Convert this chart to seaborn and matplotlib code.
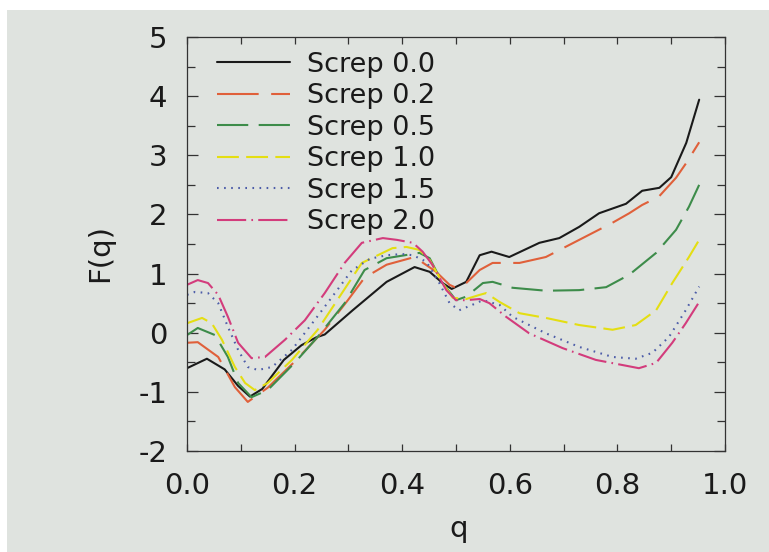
import matplotlib
matplotlib.use("Agg")
import matplotlib.pyplot as plt
import seaborn as sns
import pandas as pd
from matplotlib.ticker import MultipleLocator
from matplotlib.patches import Rectangle

# ---- data ----
labels = ["Screp 0.0", "Screp 0.2", "Screp 0.5", "Screp 1.0", "Screp 1.5", "Screp 2.0"]

q_00 = [0.0, 0.037, 0.07, 0.095, 0.117, 0.14, 0.18, 0.213, 0.24, 0.256, 0.308, 0.371, 0.423, 0.451,
        0.475, 0.492, 0.519, 0.544, 0.566, 0.599, 0.655, 0.692, 0.729, 0.766, 0.816, 0.846, 0.878,
        0.9, 0.928, 0.952]
F_00 = [-0.60, -0.44, -0.62, -0.90, -1.08, -0.95, -0.46, -0.21, -0.08, -0.03, 0.38, 0.86, 1.11, 1.03,
        0.84, 0.74, 0.86, 1.31, 1.37, 1.28, 1.52, 1.60, 1.79, 2.02, 2.18, 2.40, 2.45, 2.63, 3.21, 3.94]

q_02 = [0.0, 0.02, 0.058, 0.089, 0.113, 0.15, 0.2, 0.256, 0.299, 0.330, 0.371, 0.423, 0.463, 0.488,
        0.5, 0.519, 0.544, 0.568, 0.618, 0.667, 0.729, 0.791, 0.822, 0.846, 0.877, 0.909, 0.928, 0.952]
F_02 = [-0.17, -0.16, -0.41, -0.92, -1.17, -0.93, -0.49, 0.05, 0.55, 0.93, 1.15, 1.28, 1.03, 0.81,
        0.76, 0.84, 1.06, 1.18, 1.18, 1.28, 1.57, 1.86, 2.02, 2.16, 2.30, 2.62, 2.87, 3.22]

q_05 = [0.0, 0.02, 0.052, 0.076, 0.095, 0.12, 0.15, 0.2, 0.243, 0.293, 0.33, 0.371, 0.432, 0.451,
        0.475, 0.5, 0.519, 0.55, 0.568, 0.605, 0.667, 0.729, 0.779, 0.822, 0.872, 0.909, 0.933, 0.952]
F_05 = [-0.04, 0.08, -0.04, -0.41, -0.85, -1.09, -0.97, -0.51, -0.07, 0.50, 1.06, 1.26, 1.35, 1.26,
        0.84, 0.55, 0.61, 0.84, 0.86, 0.76, 0.71, 0.72, 0.77, 0.98, 1.35, 1.74, 2.13, 2.50]

q_10 = [0.0, 0.028, 0.046, 0.065, 0.089, 0.108, 0.126, 0.15, 0.195, 0.243, 0.288, 0.325, 0.382, 0.408,
        0.432, 0.451, 0.475, 0.494, 0.519, 0.544, 0.556, 0.581, 0.618, 0.667, 0.729, 0.791, 0.834,
        0.872, 0.902, 0.933, 0.952]
F_10 = [0.16, 0.25, 0.16, -0.12, -0.58, -0.85, -0.97, -0.85, -0.46, 0.05, 0.67, 1.18, 1.43, 1.45,
        1.40, 1.23, 0.84, 0.59, 0.57, 0.64, 0.67, 0.52, 0.33, 0.25, 0.13, 0.05, 0.13, 0.38, 0.84, 1.28, 1.57]

q_15 = [0.0, 0.015, 0.039, 0.058, 0.076, 0.095, 0.113, 0.132, 0.158, 0.195, 0.237, 0.275, 0.306, 0.34,
        0.371, 0.40, 0.42, 0.445, 0.469, 0.488, 0.506, 0.53, 0.55, 0.581, 0.605, 0.667, 0.729, 0.791,
        0.834, 0.865, 0.896, 0.927, 0.952]
F_15 = [0.64, 0.69, 0.67, 0.50, 0.10, -0.29, -0.58, -0.63, -0.58, -0.29, 0.21, 0.67, 1.05, 1.25,
        1.31, 1.33, 1.31, 1.20, 0.84, 0.50, 0.38, 0.47, 0.55, 0.47, 0.27, -0.01, -0.24, -0.41,
        -0.44, -0.34, -0.07, 0.38, 0.78]

q_20 = [0.0, 0.02, 0.039, 0.058, 0.076, 0.095, 0.12, 0.145, 0.182, 0.219, 0.256, 0.293, 0.325, 0.364,
        0.39, 0.42, 0.438, 0.456, 0.482, 0.5, 0.519, 0.544, 0.562, 0.593, 0.636, 0.698, 0.76, 0.84,
        0.872, 0.902, 0.927, 0.952]
F_20 = [0.81, 0.89, 0.84, 0.64, 0.27, -0.17, -0.43, -0.41, -0.12, 0.21, 0.67, 1.18, 1.52, 1.60,
        1.57, 1.52, 1.37, 1.15, 0.72, 0.55, 0.55, 0.57, 0.50, 0.27, -0.01, -0.26, -0.46, -0.60,
        -0.51, -0.17, 0.16, 0.52]

x_ticks = [0.0, 0.2, 0.4, 0.6, 0.8, 1.0]
y_ticks = [-2, -1, 0, 1, 2, 3, 4, 5]

series_q = [q_00, q_02, q_05, q_10, q_15, q_20]
series_F = [F_00, F_02, F_05, F_10, F_15, F_20]

frames = []
for lab, qs, fs in zip(labels, series_q, series_F):
    frames.append(pd.DataFrame({"q": qs, "F": fs, "series": lab}))
df = pd.concat(frames, ignore_index=True)

# ---- styling ----
sns.set_theme(style="ticks")
plt.rcParams["font.family"] = ["DejaVu Sans"]

bg = "#dfe3df"
palette = {
    "Screp 0.0": "#1a1a1a",
    "Screp 0.2": "#e0603a",
    "Screp 0.5": "#3d8c4a",
    "Screp 1.0": "#e4de12",
    "Screp 1.5": "#4c5ca8",
    "Screp 2.0": "#d33c7c",
}
dashes = {
    "Screp 0.0": "",
    "Screp 0.2": (20, 6),
    "Screp 0.5": (15, 5),
    "Screp 1.0": (10.5, 3.5),
    "Screp 1.5": (0.8, 2.6),
    "Screp 2.0": (14, 2.5, 0.8, 2.5),
}

fig = plt.figure(figsize=(7.69, 5.52), dpi=100, facecolor=bg)
ax = fig.add_axes([187 / 769, 1 - 451 / 552, (725 - 187) / 769, (451 - 37) / 552])
ax.set_facecolor(bg)

sns.lineplot(data=df, x="q", y="F", hue="series", style="series", palette=palette,
             dashes=dashes, sort=False, estimator=None, linewidth=1.5, ax=ax)

ax.set_xlim(0, 1.0)
ax.set_ylim(-2, 5)
ax.set_xticks(x_ticks)
ax.set_xticklabels([f"{v:.1f}" for v in x_ticks])
ax.set_yticks(y_ticks)
ax.set_yticklabels([str(v) for v in y_ticks])
ax.xaxis.set_minor_locator(MultipleLocator(0.1))
ax.yaxis.set_minor_locator(MultipleLocator(0.5))

for s in ax.spines.values():
    s.set_visible(True)
    s.set_color("#333333")
    s.set_linewidth(0.9)

ax.tick_params(axis="both", which="both", direction="in", top=True, right=True,
               color="#333333", width=0.9, labelsize=21, labelcolor="#1a1a1a")
ax.tick_params(axis="x", which="both", length=5, pad=15)
ax.tick_params(axis="y", which="major", length=8, pad=14)
ax.tick_params(axis="y", which="minor", length=5.5)

ax.set_xlabel("q", fontsize=21, color="#1a1a1a")
ax.set_ylabel("F(q)", fontsize=21, color="#1a1a1a")
ax.xaxis.set_label_coords(0.505, -0.155)
ax.yaxis.set_label_coords(-0.135, 0.478)

handles, labs = ax.get_legend_handles_labels()
leg = ax.legend(handles, labs, loc="upper left", bbox_to_anchor=(0.035, 0.99),
                frameon=False, fontsize=19.5, handlelength=2.7, handletextpad=0.65,
                labelspacing=0.2, borderaxespad=0.0)
for t in leg.get_texts():
    t.set_color("#1a1a1a")

# white scan margins
fig.patches.append(Rectangle((0, 1 - 10 / 552), 1, 10 / 552, transform=fig.transFigure,
                             facecolor="white", edgecolor="none", zorder=-1))
fig.patches.append(Rectangle((0, 0), 7 / 769, 1, transform=fig.transFigure,
                             facecolor="white", edgecolor="none", zorder=-1))

fig.savefig("out.png", dpi=100, facecolor=bg)
